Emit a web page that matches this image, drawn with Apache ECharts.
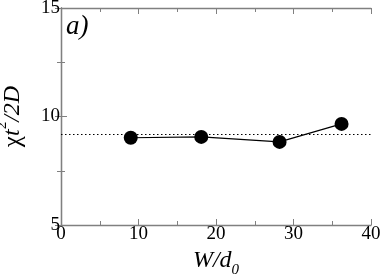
<!DOCTYPE html>
<html><head><meta charset="utf-8">
<script src="https://cdn.jsdelivr.net/npm/echarts@6/dist/echarts.min.js"></script>
<style>html,body{margin:0;padding:0;background:#fff}#c{width:382px;height:275px}</style>
</head><body><div id="c"></div>
<script>
const widths = [9.0, 18.1, 28.2, 36.2];
const chiValues = [9.02, 9.06, 8.83, 9.66];
const refLevel = 9.2;
const xTicks = [0, 10, 20, 30, 40];
const yTicks = [5, 10, 15];

const chart = echarts.init(document.getElementById('c'), null, {renderer: 'canvas'});
const axisColor = '#808080';
const font = "'Liberation Serif', 'DejaVu Serif', serif";
const baseAxis = {
  axisLine: {show: true, lineStyle: {color: axisColor, width: 1.3}},
  axisTick: {show: true, inside: true, length: 6, lineStyle: {color: axisColor}},
  minorTick: {show: true, splitNumber: 2, length: 4, lineStyle: {color: axisColor}},
  splitLine: {show: false}
};
chart.setOption({
  animation: false,
  grid: {left: 61, right: 11, top: 8, bottom: 50, containLabel: false, outerBoundsMode: 'none'},
  xAxis: [
    Object.assign({}, baseAxis, {
      type: 'value', min: 0, max: 40, interval: 10,
      axisLabel: {color: '#000', fontFamily: font, fontSize: 19, margin: 0},
      name: '{i|W/d}{s|0}', nameLocation: 'middle', nameGap: 19,
      nameTextStyle: {rich: {
        i: {fontFamily: font, fontStyle: 'italic', fontSize: 24, lineHeight: 34, color: '#000'},
        s: {fontFamily: font, fontStyle: 'italic', fontSize: 15, lineHeight: 15, color: '#000', verticalAlign: 'bottom'}
      }}
    }),
    Object.assign({}, baseAxis, {
      type: 'value', min: 0, max: 40, interval: 10, position: 'top',
      axisLabel: {show: false}
    })
  ],
  yAxis: [
    Object.assign({}, baseAxis, {
      type: 'value', min: 5, max: 15, interval: 5,
      axisLabel: {color: '#000', fontFamily: font, fontSize: 19, margin: 1},
      name: '{n|χ}{i|t}{p|2}{i|/2D}', nameLocation: 'middle', nameGap: 30, nameRotate: 90,
      nameTextStyle: {rich: {
        n: {fontFamily: font, fontSize: 25, lineHeight: 36, color: '#000'},
        i: {fontFamily: font, fontStyle: 'italic', fontSize: 24, lineHeight: 36, color: '#000'},
        p: {fontFamily: font, fontSize: 15, lineHeight: 15, color: '#000', verticalAlign: 'top'}
      }}
    }),
    Object.assign({}, baseAxis, {
      type: 'value', min: 5, max: 15, interval: 5, position: 'right',
      axisLabel: {show: false}
    })
  ],
  graphic: [{
    type: 'text', left: 66, top: 13, z: 100,
    style: {text: 'a)', fontFamily: 'Liberation Serif', fontStyle: 'italic', fontSize: 27, fill: '#000'}
  }],
  series: [{
    type: 'line',
    data: widths.map((w, i) => [w, chiValues[i]]),
    symbol: 'circle', symbolSize: 14,
    itemStyle: {color: '#000'},
    lineStyle: {color: '#000', width: 1.2},
    markLine: {
      silent: true, symbol: 'none', label: {show: false},
      lineStyle: {type: [1.5, 2.5], color: '#000', width: 1},
      data: [{yAxis: refLevel}]
    }
  }]
});
</script></body></html>
